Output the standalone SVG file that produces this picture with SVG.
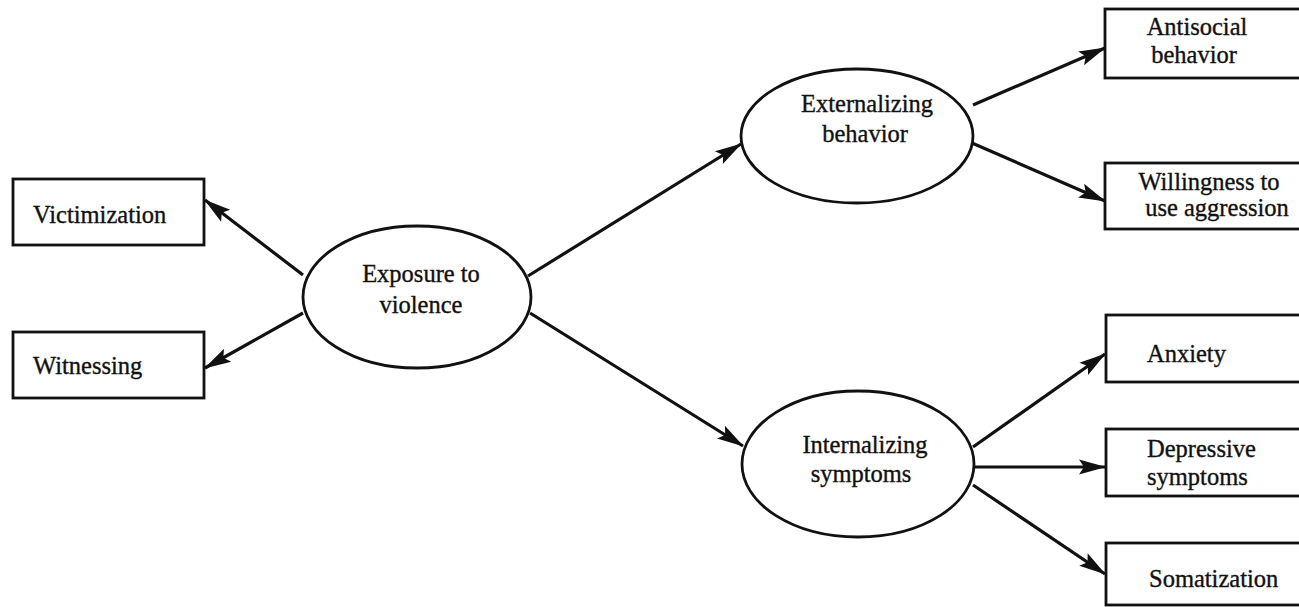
<svg xmlns="http://www.w3.org/2000/svg" width="1299" height="607" viewBox="0 0 1299 607">
<style>
.box{fill:#fff;stroke:#111;stroke-width:2.8}
.ell{fill:#fff;stroke:#111;stroke-width:2.8}
.t{font-family:"Liberation Serif","Times New Roman",serif;font-size:24.5px;fill:#111;stroke:#111;stroke-width:0.35}
.m{text-anchor:middle}
.c{stroke:#111;stroke-width:3.2;fill:none;marker-end:url(#ah)}
</style>
<defs>
<marker id="ah" markerUnits="userSpaceOnUse" markerWidth="27" markerHeight="18" viewBox="0 0 27 18" refX="26" refY="9" orient="auto">
<path d="M0,1.5 L27,9 L0,16.5 L5,9 z" fill="#111"/>
</marker>
</defs>
<g id="connectors">
<line class="c" x1="303" y1="275" x2="205" y2="200"/>
<line class="c" x1="303" y1="313" x2="205" y2="368"/>
<line class="c" x1="528" y1="276" x2="741" y2="144"/>
<line class="c" x1="530" y1="313" x2="743" y2="446"/>
<line class="c" x1="973" y1="105" x2="1105" y2="48"/>
<line class="c" x1="972" y1="143" x2="1105" y2="201"/>
<line class="c" x1="973" y1="447" x2="1105" y2="354"/>
<line class="c" x1="975" y1="467" x2="1105" y2="467"/>
<line class="c" x1="973" y1="485" x2="1105" y2="574"/>
</g>
<g id="victimization">
<rect class="box" x="13" y="179" width="191" height="66"/>
<text class="t" x="33" y="223">Victimization</text>
</g>
<g id="witnessing">
<rect class="box" x="13" y="332" width="191" height="66"/>
<text class="t" x="33" y="374">Witnessing</text>
</g>
<g id="exposure">
<ellipse class="ell" cx="417" cy="297" rx="114" ry="71"/>
<text class="t m" x="421" y="282">Exposure to</text>
<text class="t m" x="421" y="313">violence</text>
</g>
<g id="externalizing">
<ellipse class="ell" cx="857" cy="136" rx="116" ry="67"/>
<text class="t m" x="867" y="112">Externalizing</text>
<text class="t m" x="865" y="142">behavior</text>
</g>
<g id="internalizing">
<ellipse class="ell" cx="858" cy="464" rx="116" ry="73"/>
<text class="t m" x="865" y="453">Internalizing</text>
<text class="t m" x="861" y="482">symptoms</text>
</g>
<g id="antisocial">
<rect class="box" x="1105" y="9" width="200" height="69"/>
<text class="t m" x="1197" y="35">Antisocial</text>
<text class="t m" x="1194" y="63">behavior</text>
</g>
<g id="willingness">
<rect class="box" x="1105" y="163" width="200" height="66"/>
<text class="t m" x="1209" y="190">Willingness to</text>
<text class="t m" x="1217" y="216">use aggression</text>
</g>
<g id="anxiety">
<rect class="box" x="1106" y="315" width="200" height="67"/>
<text class="t" x="1147" y="362">Anxiety</text>
</g>
<g id="depressive">
<rect class="box" x="1106" y="429" width="200" height="67"/>
<text class="t" x="1147" y="457">Depressive</text>
<text class="t" x="1147" y="485">symptoms</text>
</g>
<g id="somatization">
<rect class="box" x="1106" y="543" width="200" height="62"/>
<text class="t" x="1149" y="587">Somatization</text>
</g>
</svg>
